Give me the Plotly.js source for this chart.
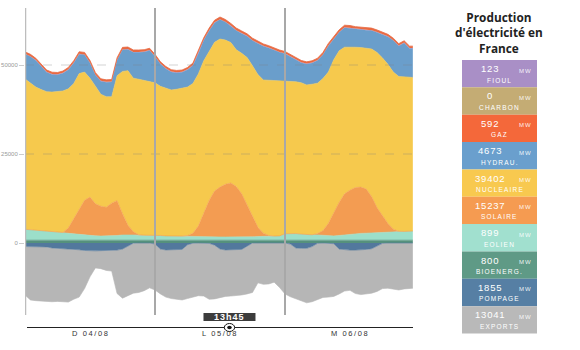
<!DOCTYPE html>
<html><head><meta charset="utf-8">
<script src="https://cdn.plot.ly/plotly-3.0.1.min.js"></script>
<style>html,body{margin:0;padding:0;background:#fff;}#chart{width:580px;height:350px;}</style>
</head><body><div id="chart"></div>
<script>
// hours since 04/08 00:00
const hours = [0,1,2,3,4,5,6,7,8,9,10,11,12,13,14,15,16,17,18,19,20,21,22,23,
  24,25,26,27,28,29,30,31,32,33,34,35,36,37,38,39,40,41,42,43,44,45,46,47,
  48,49,50,51,52,53,54,55,56,57,58,59,60,61,62,63,64,65,66,67,68,69,70,71,71.6];

const bioenergies = [800,800,790,790,800,800,810,810,800,800,790,800,800,810,800,800,790,800,800,810,800,800,790,800,
  800,810,800,800,790,800,800,810,800,800,790,800,800,800,800,810,800,800,790,800,800,810,800,800,
  800,790,800,800,810,800,800,790,800,800,810,800,800,790,800,800,810,800,800,790,800,800,810,800,800];
const eolien = [3050,2900,2750,2600,2450,2300,2150,1950,1800,1650,1500,1400,1300,1200,1150,1150,1200,1300,1450,1500,1450,1400,1400,1400,
  1450,1300,1200,1150,1150,1150,1100,1100,1050,1000,950,900,900,900,880,850,850,900,950,1000,1050,1100,1150,1200,
  1800,1900,1850,1700,1600,1500,1450,1350,1200,1200,1300,1500,1650,1800,1900,1950,2000,2100,2200,2300,2350,2400,2450,2500,2550];
const solaire = [0,0,0,0,0,0,0,200,1600,4300,7200,9800,10800,9000,8400,8100,9200,9800,6000,2700,900,100,0,0,
  0,0,0,0,0,0,200,800,2900,6600,10200,12900,14000,14800,15200,14200,12200,9000,5600,2600,900,200,0,0,
  0,0,0,0,0,0,400,1300,3500,6400,9300,11500,12400,13000,13000,12400,10200,7000,4600,2400,700,100,0,0,0];
const nucleaire = [42250,41300,40250,39700,39250,39300,39550,39750,39100,38050,38100,36000,33400,33000,31450,31050,29900,35100,39950,43400,43150,43700,43500,43200,
  42750,41900,41400,41050,41250,41450,41700,42100,42750,42800,42050,41800,41600,40500,39420,38450,39450,41400,42450,42900,43050,43600,43650,43600,
  42900,42700,42650,42500,42000,42300,42250,42750,42500,43100,42600,41200,40250,39400,39200,39650,41500,43600,44400,44700,44150,43500,43350,43200,43150];
const hydraulique = [6960,7360,7460,6460,5460,4960,4760,4960,5360,5760,5460,4860,4260,3160,3660,4060,4160,4360,6060,5960,7260,7560,7960,8660,
  7360,6260,5560,5060,4660,4560,4860,5060,5660,5760,5660,5460,5460,5060,4660,5360,5560,5960,7060,8660,9460,9060,8460,7960,
  7660,6960,6260,5660,5860,5960,6360,6660,7360,5860,5160,5460,5260,5060,5060,4960,5160,5660,6560,7760,8860,8560,9560,8160,8160];
const gaz = [520,520,510,510,500,500,510,520,530,540,550,560,560,560,550,550,550,560,570,560,550,540,530,520,
  520,510,510,500,500,510,520,540,560,580,590,600,600,595,592,590,580,570,560,550,540,530,520,520,
  520,510,500,500,500,510,520,540,560,580,590,600,600,600,590,580,570,560,550,540,530,520,520,520,520];
const charbon = [0,0,0,0,0,0,0,0,0,0,0,0,0,0,0,0,0,0,0,0,0,0,0,0,
  0,0,0,0,0,0,0,0,0,0,0,0,0,0,0,0,0,0,0,0,0,0,0,0,
  0,0,0,0,0,0,0,0,0,0,0,0,0,0,0,0,0,0,0,0,0,0,0,0,0];
const fioul = [120,120,120,120,120,120,120,120,120,120,120,120,123,123,123,123,123,123,123,123,120,120,120,120,
  120,120,120,120,120,120,120,120,123,123,123,123,123,123,123,123,123,123,123,120,120,120,120,120,
  120,120,120,120,120,120,120,120,123,123,123,123,123,123,123,123,123,123,123,120,120,120,120,120,120];
const pompage = [-1000,-1050,-1050,-1100,-1100,-1400,-1500,-1500,-1500,-1600,-1900,-2100,-2200,-2200,-2150,-2100,-2100,-2000,-1700,-800,-50,0,0,0,
  -300,-1700,-1950,-1950,-1950,-1800,-500,-50,0,0,-100,-600,-1700,-1950,-1855,-1950,-1800,-900,0,0,0,0,0,0,
  0,-300,-1400,-1500,-1500,-1000,-100,0,0,-200,-1700,-1950,-2000,-2000,-2000,-1800,-1600,-900,-100,0,0,0,0,0,0];
const exports = [-13600,-14950,-15150,-15200,-15400,-15100,-14900,-15000,-15100,-14200,-13300,-10700,-7300,-4800,-5050,-5600,-5800,-12200,-13800,-14000,-14050,-13900,-13400,-12600,
  -12900,-12600,-13250,-13650,-13950,-14200,-15100,-15050,-14800,-14900,-15700,-15100,-13600,-13050,-13041,-12850,-12800,-13400,-13900,-11200,-11600,-11500,-11000,-12500,
  -14300,-14800,-14300,-14800,-15300,-15500,-15700,-15300,-15200,-14800,-12600,-11550,-11300,-12200,-12500,-12500,-12500,-12700,-12700,-12700,-13000,-13200,-12900,-12700,-12700];

const dayLabels = ['D 04/08','L 05/08','M 06/08'];
const dayCenters = [12,36,60];
const dayBounds = [24,48];
const yTicks = [0,25000,50000];
const cursorHour = 37.75;
const cursorLabel = '13h45';
const titleText = "Production<br>d'électricité en<br>France";

const legendLabels = ['FIOUL','CHARBON','GAZ','HYDRAU.','NUCLEAIRE','SOLAIRE','EOLIEN','BIOENERG.','POMPAGE','EXPORTS'];
const legendValues = [123,0,592,4673,39402,15237,899,800,1855,13041];
const legendColors = ['#a98fc6','#c4ac74','#f4683a','#6a9fcd','#f8c94f','#f59b51','#a1e0cf','#5f9a86','#567fa4','#b9b9b9'];

const areaColors = {bio:'#55917c', eol:'#9cdfca', sol:'#f39c52', nuc:'#f6c94d', hyd:'#6a9ecb', gaz:'#e86a42', cha:'#c4ac74', fio:'#a98fc6', pom:'#52789d', exp:'#b6b6b6'};

function area(y, name, color, group, w){
  return {x:hours, y:y, name:name, type:'scatter', mode:'lines', stackgroup:group,
    line:{width:(w===undefined?0.6:w), color:color, shape:'linear'}, fillcolor:color, hoverinfo:'skip'};
}
const traces = [
  area(bioenergies,'BIOENERG.',areaColors.bio,'pos'),
  area(eolien,'EOLIEN',areaColors.eol,'pos'),
  area(solaire,'SOLAIRE',areaColors.sol,'pos'),
  area(nucleaire,'NUCLEAIRE',areaColors.nuc,'pos'),
  area(hydraulique,'HYDRAU.',areaColors.hyd,'pos'),
  area(charbon,'CHARBON',areaColors.cha,'pos',0),
  area(fioul,'FIOUL',areaColors.fio,'pos',0),
  area(gaz,'GAZ',areaColors.gaz,'pos',0.8),
  area(pompage,'POMPAGE',areaColors.pom,'neg'),
  area(exports,'EXPORTS',areaColors.exp,'neg')
];

// geometry helpers (pixel -> paper)
const W=580,H=350,ML=25,MR=165,MT=8,MB=35;
const PW=W-ML-MR, PH=H-MT-MB;
const px = v => (v-ML)/PW;
const py = v => (H-MB-v)/PH;

const shapes = [];
const annotations = [];
// dashed guides
yTicks.slice(1).forEach(v=>shapes.push({type:'line',xref:'x',yref:'y',x0:0,x1:72,y0:v,y1:v,layer:'above',
  line:{color:'rgba(130,130,130,0.35)',width:1,dash:'dash'}}));
// left axis line
shapes.push({type:'line',xref:'x',yref:'paper',x0:0,x1:0,y0:0,y1:1,layer:'above',line:{color:'#bdbdbd',width:2.5}});
// day separators
dayBounds.forEach(d=>shapes.push({type:'line',xref:'x',yref:'paper',x0:d,x1:d,y0:0,y1:1,layer:'above',line:{color:'#a8a8a8',width:2}}));
// bottom time axis
shapes.push({type:'line',xref:'paper',yref:'paper',x0:px(27),x1:px(413),y0:py(327.5),y1:py(327.5),line:{color:'#222',width:1}});
// cursor badge
shapes.push({type:'rect',xref:'x',yref:'paper',x0:cursorHour-4.8,x1:cursorHour+4.8,y0:py(321),y1:py(313),layer:'above',fillcolor:'#3c3c3c',line:{width:0}});
shapes.push({type:'circle',xref:'x',yref:'paper',x0:cursorHour-0.95,x1:cursorHour+0.95,y0:py(331.5),y1:py(323.5),layer:'above',fillcolor:'#fff',line:{color:'#111',width:1}});
shapes.push({type:'circle',xref:'x',yref:'paper',x0:cursorHour-0.42,x1:cursorHour+0.42,y0:py(329.3),y1:py(325.7),layer:'above',fillcolor:'#111',line:{width:0}});
annotations.push({xref:'x',yref:'paper',x:cursorHour,y:py(317.2),text:'<span style="letter-spacing:1px">'+cursorLabel+'</span>',showarrow:false,
  xanchor:'center',yanchor:'middle',font:{family:'Liberation Sans, Arial',size:9,color:'#fff',weight:'bold'}});
// day labels
dayLabels.forEach((t,i)=>annotations.push({xref:'x',yref:'paper',x:dayCenters[i],y:py(333.5),text:'<span style="letter-spacing:1.6px">'+t+'</span>',
  showarrow:false,xanchor:'center',yanchor:'middle',font:{family:'Liberation Sans, Arial',size:7.5,color:'#333'}}));

// legend panel title
annotations.push({xref:'paper',yref:'paper',x:px(499),y:py(32),text:titleText,showarrow:false,
  xanchor:'center',yanchor:'middle',align:'center',font:{family:'Open Sans',size:11.8,color:'#222',weight:'bold'}});
const boxTop=60, boxH=27.35, bx0=462, bx1=537;
legendLabels.forEach((lab,i)=>{
  const T = boxTop + boxH*i;
  shapes.push({type:'rect',xref:'paper',yref:'paper',x0:px(bx0),x1:px(bx1),y0:py(T+boxH),y1:py(T),fillcolor:legendColors[i],line:{width:0}});
  annotations.push({xref:'paper',yref:'paper',x:px(490),y:py(T+8.6),text:'<span style="letter-spacing:0.8px">'+legendValues[i]+'</span>',showarrow:false,
    xanchor:'center',yanchor:'middle',font:{family:'Liberation Sans, Arial',size:9.5,color:'#fff'}});
  annotations.push({xref:'paper',yref:'paper',x:px(525),y:py(T+10.6),text:'<span style="letter-spacing:1px">MW</span>',showarrow:false,
    xanchor:'center',yanchor:'middle',font:{family:'Liberation Sans, Arial',size:6,color:'rgba(255,255,255,0.9)'}});
  annotations.push({xref:'paper',yref:'paper',x:px(500),y:py(T+20),text:'<span style="letter-spacing:1.2px">'+lab+'</span>',showarrow:false,
    xanchor:'center',yanchor:'middle',font:{family:'Liberation Sans, Arial',size:6.5,color:'#fff'}});
});

const layout = {
  width:W, height:H, margin:{l:ML,r:MR,t:MT,b:MB,pad:0},
  paper_bgcolor:'#fff', plot_bgcolor:'#fff', showlegend:false,
  xaxis:{range:[0,72],showgrid:false,zeroline:false,showline:false,showticklabels:false,ticks:'',fixedrange:true},
  yaxis:{range:[-20225,66011],tickvals:yTicks,ticktext:yTicks.map(String),showgrid:false,zeroline:false,showline:false,
    ticks:'outside',ticklen:5,tickcolor:'#cccccc',tickwidth:1,tickfont:{family:'Liberation Sans, Arial',size:6,color:'#999'}},
  shapes:shapes, annotations:annotations
};
Plotly.newPlot('chart', traces, layout, {staticPlot:true, displayModeBar:false});
</script></body></html>
